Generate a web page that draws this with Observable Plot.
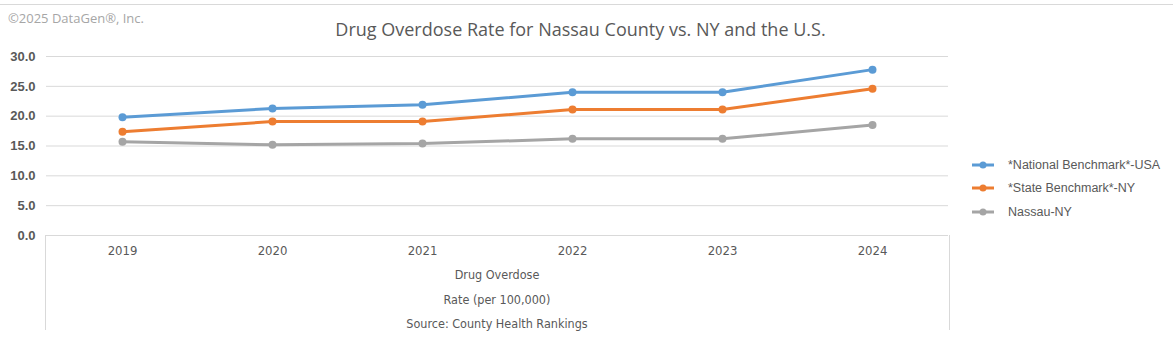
<!DOCTYPE html>
<html>
<head>
<meta charset="utf-8">
<script src="https://cdn.jsdelivr.net/npm/d3@7"></script>
<script src="https://cdn.jsdelivr.net/npm/@observablehq/plot@0.6"></script>
<style>
  html, body { margin: 0; padding: 0; background: #fff; }
  #wrap { position: relative; width: 1173px; height: 338px; overflow: hidden; }
  #topline { position: absolute; left: 0; top: 4px; width: 1173px; height: 0; border-top: 1px solid #d9d9d9; }
  #copy { position: absolute; left: 8px; top: 9px; font: 13px "Open Sans", sans-serif; color: #a6a6a6; }
  #title { position: absolute; left: -6px; width: 1173px; top: 17px; text-align: center; font: 18px "Open Sans", sans-serif; color: #595959; }
  #xbox { position: absolute; left: 45px; top: 235px; width: 903px; height: 95px; border-left: 1px solid #d9d9d9; border-right: 1px solid #d9d9d9; }
  .xt { position: absolute; left: 46px; width: 902px; text-align: center; font: 12.5px "Liberation Sans Narrow", "DejaVu Sans Condensed", sans-serif; color: #595959; }
  #legend { position: absolute; left: 972px; top: 153px; font: 12.5px "Liberation Sans", Arial, sans-serif; color: #595959; }
  .li { height: 23.5px; display: flex; align-items: center; }
  .li svg { margin-right: 14px; }
  #chart { position: absolute; left: 0; top: 0; }
</style>
</head>
<body>
<div id="wrap">
  <div id="topline"></div>
  <div id="chart"></div>
  <div id="xbox"></div>
  <div id="copy">©2025 DataGen®, Inc.</div>
  <div id="title">Drug Overdose Rate for Nassau County vs. NY and the U.S.</div>
  <div class="xt" style="top:267px">Drug Overdose</div>
  <div class="xt" style="top:292px">Rate (per 100,000)</div>
  <div class="xt" style="top:316px">Source: County Health Rankings</div>
  <div id="legend"></div>
</div>
<script>
const years = ["2019", "2020", "2021", "2022", "2023", "2024"];
const seriesNames = ["*National Benchmark*-USA", "*State Benchmark*-NY", "Nassau-NY"];
const national = [19.8, 21.3, 21.9, 24.0, 24.0, 27.8];
const state = [17.4, 19.1, 19.1, 21.1, 21.1, 24.6];
const nassau = [15.7, 15.2, 15.4, 16.2, 16.2, 18.5];
const colors = ["#5B9BD5", "#ED7D31", "#A5A5A5"];
const yTicks = [0, 5, 10, 15, 20, 25, 30];

const valuesBySeries = [national, state, nassau];
const data = [];
seriesNames.forEach((s, i) => {
  years.forEach((y, j) => data.push({series: s, year: y, value: valuesBySeries[i][j]}));
});

const plot = Plot.plot({
  width: 1173,
  height: 338,
  marginLeft: 46,
  marginRight: 225,
  marginTop: 56,
  marginBottom: 103,
  style: {background: "transparent", color: "#595959"},
  x: {type: "point", domain: years, padding: 0.5, label: null},
  y: {domain: [0, 30], label: null},
  color: {domain: seriesNames, range: colors},
  marks: [
    Plot.ruleY(yTicks, {stroke: "#d9d9d9", strokeWidth: 1}),
    Plot.axisY({ticks: yTicks, tickFormat: d3.format(".1f"), tickSize: 0, tickPadding: 11,
      fontSize: 13, fontWeight: "bold", fontFamily: "'Liberation Sans', Arial, sans-serif", fill: "#595959"}),
    Plot.axisX({tickSize: 0, tickPadding: 10, fontSize: 13,
      fontFamily: "'Liberation Sans Narrow', 'DejaVu Sans Condensed', sans-serif", fill: "#595959"}),
    Plot.line(data, {x: "year", y: "value", z: "series", stroke: "series", strokeWidth: 3, strokeLinecap: "round"}),
    Plot.dot(data, {x: "year", y: "value", fill: "series", r: 4})
  ]
});
document.getElementById("chart").appendChild(plot);

const legend = document.getElementById("legend");
seriesNames.forEach((s, i) => {
  const div = document.createElement("div");
  div.className = "li";
  div.innerHTML = `<svg width="22" height="10"><line x1="0" y1="5" x2="22" y2="5" stroke="${colors[i]}" stroke-width="3"/><circle cx="11" cy="5" r="3.5" fill="${colors[i]}"/></svg><span>${s}</span>`;
  legend.appendChild(div);
});
</script>
</body>
</html>
